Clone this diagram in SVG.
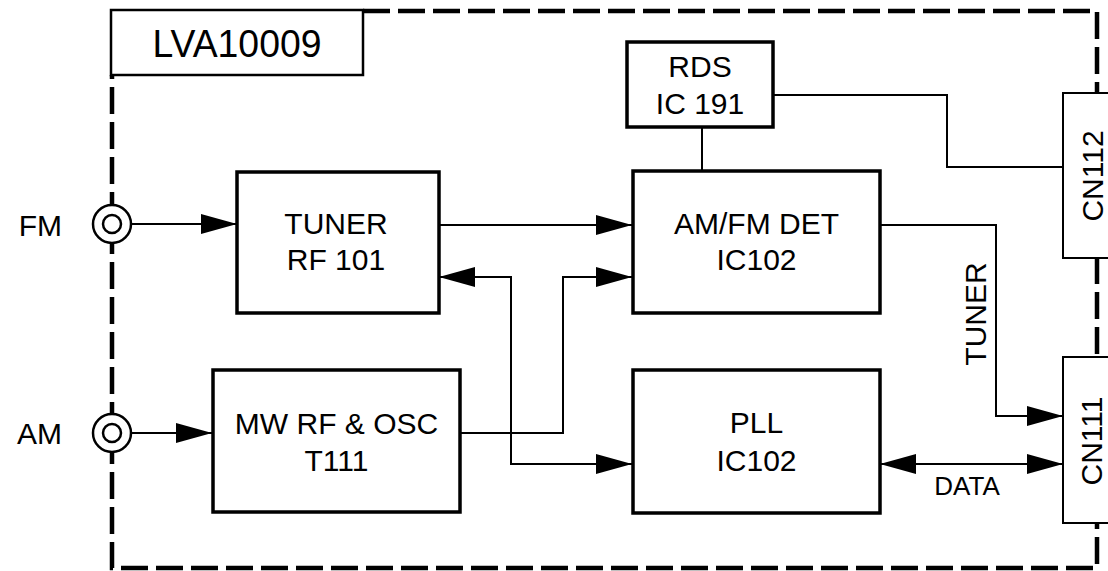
<svg xmlns="http://www.w3.org/2000/svg" width="1108" height="571" viewBox="0 0 1108 571">
<style>
.box{fill:#fff;stroke:#000;stroke-width:3.5}
.cn{fill:#fff;stroke:#000;stroke-width:2}
.t{font-family:"Liberation Sans",Arial,sans-serif;font-size:30px;fill:#000;text-anchor:middle}
.w{fill:none;stroke:#000;stroke-width:2}
.border{fill:none;stroke:#000;stroke-width:4.5;stroke-dasharray:27 8}
.jack{fill:#fff;stroke:#000;stroke-width:2.5}
</style>
<defs>
<marker id="ah" markerUnits="userSpaceOnUse" markerWidth="36" markerHeight="20" refX="36" refY="10" orient="auto-start-reverse" viewBox="0 0 36 20">
<path d="M0,0 L36,10 L0,20 z" fill="#000"/>
</marker>
</defs>
<rect width="1108" height="571" fill="#fff"/>
<path class="border" d="M363,11 H1097 V568 H112 V75"/>
<g id="lva">
<rect x="111" y="10" width="252" height="65" fill="#fff" stroke="#000" stroke-width="2.5"/>
<text class="t" x="237" y="57" style="font-size:39px" textLength="169" lengthAdjust="spacingAndGlyphs">LVA10009</text>
</g>
<g id="connectors">
<path class="w" d="M131,224 H237" marker-end="url(#ah)"/>
<path class="w" d="M439,225 H632" marker-end="url(#ah)"/>
<path class="w" d="M439,277 H511 V464 H632" marker-start="url(#ah)" marker-end="url(#ah)"/>
<path class="w" d="M461,433 H563 V277 H632" marker-end="url(#ah)"/>
<path class="w" d="M131,433 H212" marker-end="url(#ah)"/>
<path class="w" d="M702,127 V171"/>
<path class="w" d="M773,95 H947 V167 H1063"/>
<path class="w" d="M880,225 H996 V416 H1063" marker-end="url(#ah)"/>
<path class="w" d="M880,464 H1063" marker-start="url(#ah)" marker-end="url(#ah)"/>
</g>
<g id="fm-jack">
<circle class="jack" cx="112" cy="224" r="19"/>
<circle class="jack" cx="112" cy="224" r="9"/>
<text class="t" x="62" y="236" style="text-anchor:end">FM</text>
</g>
<g id="am-jack">
<circle class="jack" cx="112" cy="433" r="19"/>
<circle class="jack" cx="112" cy="433" r="9"/>
<text class="t" x="62" y="444" style="text-anchor:end">AM</text>
</g>
<g id="tuner">
<rect class="box" x="237" y="172" width="202" height="141"/>
<text class="t" x="336" y="234">TUNER</text>
<text class="t" x="336" y="270">RF 101</text>
</g>
<g id="mwrf">
<rect class="box" x="213" y="370" width="247" height="142"/>
<text class="t" x="336.5" y="434">MW RF &amp; OSC</text>
<text class="t" x="336.5" y="471">T111</text>
</g>
<g id="rds">
<rect class="box" x="627" y="42" width="146" height="85"/>
<text class="t" x="700" y="77">RDS</text>
<text class="t" x="700" y="114">IC 191</text>
</g>
<g id="amfmdet">
<rect class="box" x="633" y="171" width="247" height="142"/>
<text class="t" x="756.5" y="234">AM/FM DET</text>
<text class="t" x="756.5" y="270">IC102</text>
</g>
<g id="pll">
<rect class="box" x="633" y="370" width="247" height="143"/>
<text class="t" x="756.5" y="433">PLL</text>
<text class="t" x="756.5" y="471">IC102</text>
</g>
<g id="cn112">
<rect class="cn" x="1063" y="93" width="60" height="165"/>
<text class="t" transform="translate(1103,176) rotate(-90)">CN112</text>
</g>
<g id="cn111">
<rect class="cn" x="1063" y="357" width="60" height="166"/>
<text class="t" transform="translate(1102,441) rotate(-90)">CN111</text>
</g>
<g id="labels">
<text class="t" transform="translate(986,314) rotate(-90)">TUNER</text>
<text class="t" x="967" y="495" style="font-size:26px">DATA</text>
</g>
</svg>
